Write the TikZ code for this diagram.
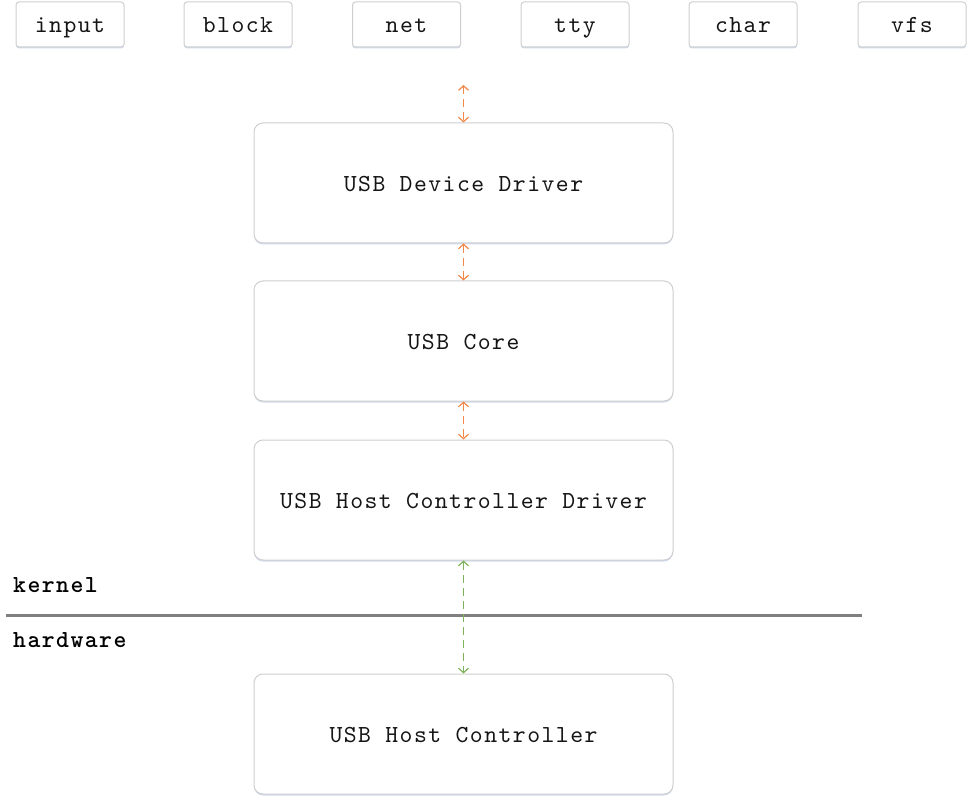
\documentclass[tikz,border=0pt]{standalone}
\usepackage{fontspec}
\newfontfamily\cmono{lmmono10-regular.otf}[LetterSpace=6, BoldFont=lmmonolt10-bold.otf]
\usetikzlibrary{arrows.meta,shadows}
\definecolor{boxline}{HTML}{CFCFCF}
\definecolor{shadowc}{HTML}{C4D2E8}
\definecolor{orangearr}{HTML}{F2884A}
\definecolor{greenarr}{HTML}{7DB35A}
\definecolor{sepline}{HTML}{7F7F7F}
\definecolor{txt}{HTML}{151515}
\newcommand{\boxfont}{\cmono\fontsize{24.5}{30}\selectfont}
\newcommand{\labfont}{\cmono\bfseries\fontsize{24.5}{30}\selectfont}
\tikzset{
  smallbox/.style={draw=boxline, line width=1pt, fill=white, rounded corners=3pt,
    minimum width=108pt, minimum height=45pt, inner sep=0pt,
    text height=20pt, text depth=4pt,
    font=\boxfont, text=txt,
    drop shadow={shadow xshift=0pt, shadow yshift=-1.5pt, fill=shadowc, opacity=0.8}},
  bigbox/.style={draw=boxline, line width=1pt, fill=white, rounded corners=9pt,
    minimum width=419pt, minimum height=120pt, inner sep=0pt,
    text height=21.4pt, text depth=4pt,
    font=\boxfont, text=txt,
    drop shadow={shadow xshift=0pt, shadow yshift=-1.5pt, fill=shadowc, opacity=0.8}},
  layerlabel/.style={anchor=base west, inner sep=0pt,
    font=\labfont, text=black},
  dasharrow/.style={dash pattern=on 8pt off 5pt, line width=1.2pt,
    {Straight Barb[length=4.5pt,width=10pt]}-{Straight Barb[length=4.5pt,width=10pt]}},
}
\begin{document}
\begin{tikzpicture}[x=1pt,y=-1pt]
\useasboundingbox (0,0) rectangle (972,802);
% top boxes
\node[smallbox] (input) at (70,24.5) {input};
\node[smallbox] (block) at (238,24.5) {block};
\node[smallbox] (net) at (406.5,24.5) {net};
\node[smallbox] (tty) at (575,24.5) {tty};
\node[smallbox] (char) at (743,24.5) {char};
\node[smallbox] (vfs) at (912,24.5) {vfs};
% big boxes
\node[bigbox] (dev) at (463.5,183) {USB Device Driver};
\node[bigbox] (core) at (463.5,341) {USB Core};
\node[bigbox] (hcd) at (463.5,500) {USB Host Controller Driver};
\node[bigbox] (hc) at (463.5,734) {USB Host Controller};
% separator
\coordinate (sepL) at (6,615);
\coordinate (sepR) at (862,615);
\draw[sepline, line width=3pt] (sepL) -- (sepR);
\node[layerlabel] (kernel) at (13,592) {kernel};
\node[layerlabel] (hardware) at (13,647) {hardware};
% connectors
\coordinate (topend) at (463.5,85);
\draw[dasharrow, orangearr] (topend) -- (dev.north);
\draw[dasharrow, orangearr] (dev.south) -- (core.north);
\draw[dasharrow, orangearr] (core.south) -- (hcd.north);
\draw[dasharrow, greenarr] (hcd.south) -- (hc.north);
\end{tikzpicture}
\end{document}
